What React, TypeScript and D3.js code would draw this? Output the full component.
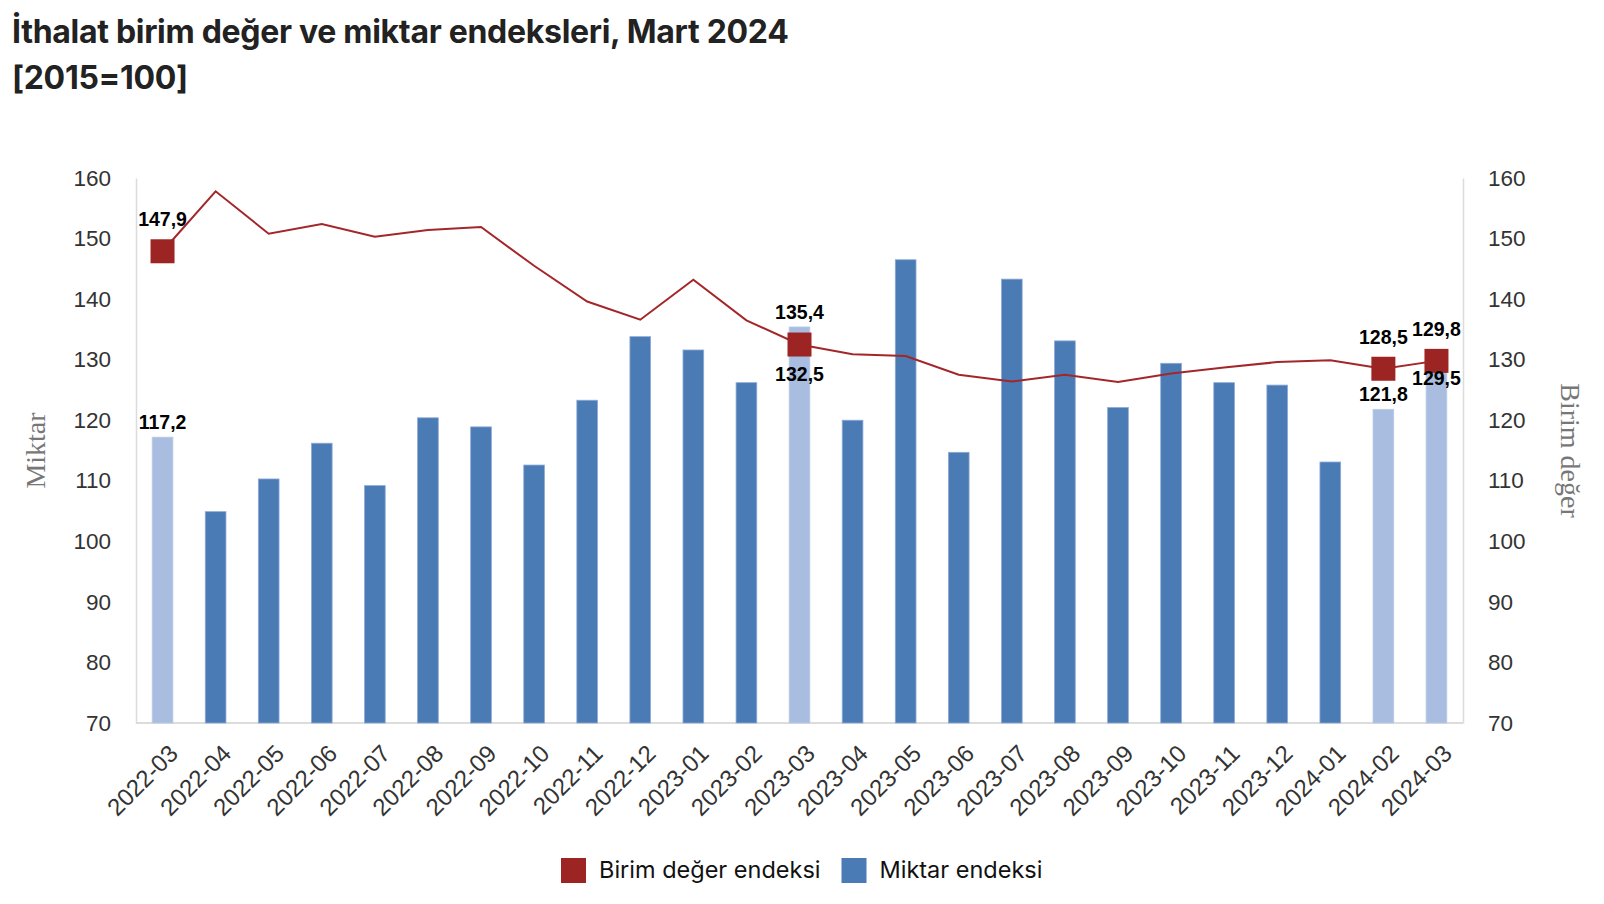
import React, { useEffect, useRef } from "react";
import * as d3 from "d3";

const months = [
    "2022-03", "2022-04", "2022-05", "2022-06", "2022-07", "2022-08", "2022-09",
    "2022-10", "2022-11", "2022-12", "2023-01", "2023-02", "2023-03", "2023-04",
    "2023-05", "2023-06", "2023-07", "2023-08", "2023-09", "2023-10", "2023-11",
    "2023-12", "2024-01", "2024-02", "2024-03",
];

// Miktar endeksi (bars)
const miktar = [
    117.2, 104.9, 110.3, 116.2, 109.2, 120.4, 118.9, 112.6, 123.3, 133.8, 131.6,
    126.2, 135.4, 120.0, 146.5, 114.7, 143.3, 133.1, 122.1, 129.4, 126.2, 125.8,
    113.1, 121.8, 129.5,
];

// Birim değer endeksi (line)
const birimDeger = [
    147.9, 157.8, 150.8, 152.4, 150.3, 151.4, 151.9, 145.5, 139.6, 136.6, 143.2,
    136.5, 132.5, 130.9, 130.6, 127.5, 126.4, 127.5, 126.3, 127.7, 128.7, 129.6,
    129.9, 128.5, 129.8,
];

// months that get the light bar, a marker and value labels
const highlighted = ["2022-03", "2023-03", "2024-02", "2024-03"];

const yTicks = [70, 80, 90, 100, 110, 120, 130, 140, 150, 160];

const title1 = "İthalat birim değer ve miktar endeksleri, Mart 2024";
const title2 = "[2015=100]";

const W = 1604;
const H = 904;

const fmt = (v: number) => v.toFixed(1).replace(".", ",");

const App: React.FC = () => {
    const svgRef = useRef<SVGSVGElement | null>(null);

    useEffect(() => {
        const margin = { top: 178, right: 141, bottom: 181, left: 136 };
        const svg = d3.select(svgRef.current).attr("width", W).attr("height", H);
        svg.selectAll("*").remove();

        const tickFont = "'Liberation Sans', Arial, sans-serif";

        // title
        [title1, title2].forEach((t, i) => {
            svg.append("text")
                .attr("x", 12)
                .attr("y", 43 + i * 46)
                .attr("font-family", "Inter, Roboto, sans-serif")
                .attr("font-weight", 700)
                .attr("font-size", 32)
                .attr("letter-spacing", -0.3)
                .attr("fill", "#222")
                .text(t);
        });

        const x = d3
            .scaleBand<string>()
            .domain(months)
            .range([margin.left, W - margin.right])
            .paddingInner(0.61)
            .paddingOuter(0.305);

        const y = d3
            .scaleLinear()
            .domain([70, 160])
            .range([H - margin.bottom, margin.top]);

        const cx = (m: string) => x(m)! + x.bandwidth() / 2;

        // axes
        const left = svg
            .append("g")
            .attr("transform", `translate(${margin.left},0)`)
            .call(d3.axisLeft(y).tickValues(yTicks).tickSize(0).tickPadding(25));
        const right = svg
            .append("g")
            .attr("transform", `translate(${W - margin.right},0)`)
            .call(d3.axisRight(y).tickValues(yTicks).tickSize(0).tickPadding(25));
        [left, right].forEach((g) => {
            g.select(".domain").attr("stroke", "#dcdcdc").attr("stroke-width", 1.5);
            g.selectAll("text")
                .attr("font-family", tickFont)
                .attr("font-size", 22.5)
                .attr("fill", "#333");
        });

        svg.append("line")
            .attr("x1", margin.left)
            .attr("x2", W - margin.right)
            .attr("y1", y(70))
            .attr("y2", y(70))
            .attr("stroke", "#dcdcdc")
            .attr("stroke-width", 2);

        // x labels, rotated
        svg.append("g")
            .selectAll("text")
            .data(months)
            .enter()
            .append("text")
            .attr("transform", (d) => `translate(${cx(d) + 11},${y(70) + 26}) rotate(-45)`)
            .attr("text-anchor", "end")
            .attr("dy", "0.35em")
            .attr("font-family", tickFont)
            .attr("font-size", 24)
            .attr("fill", "#333")
            .text((d) => d);

        // axis titles
        svg.append("text")
            .attr("transform", `translate(45,${(y(70) + y(160)) / 2}) rotate(-90)`)
            .attr("text-anchor", "middle")
            .attr("font-family", "'Liberation Serif', 'Times New Roman', serif")
            .attr("font-size", 28)
            .attr("fill", "#777")
            .text("Miktar");
        svg.append("text")
            .attr("transform", `translate(1561,${(y(70) + y(160)) / 2}) rotate(90)`)
            .attr("text-anchor", "middle")
            .attr("font-family", "'Liberation Serif', 'Times New Roman', serif")
            .attr("font-size", 28)
            .attr("fill", "#777")
            .text("Birim değer");

        // bars
        svg.append("g")
            .selectAll("rect")
            .data(months)
            .enter()
            .append("rect")
            .attr("x", (d) => x(d)!)
            .attr("y", (d, i) => y(miktar[i]))
            .attr("width", x.bandwidth())
            .attr("height", (d, i) => y(70) - y(miktar[i]))
            .attr("fill", (d) => (highlighted.includes(d) ? "#a8bde0" : "#4a7bb4"))
            .attr("stroke", (d) => (highlighted.includes(d) ? "#b9cae6" : "#8eaad6"))
            .attr("stroke-width", 0.8);

        // line
        const line = d3
            .line<number>()
            .x((d, i) => cx(months[i]))
            .y((d) => y(d));
        svg.append("path")
            .datum(birimDeger)
            .attr("fill", "none")
            .attr("stroke", "#a3272a")
            .attr("stroke-width", 2)
            .attr("d", line);

        // markers + labels
        const ms = 24;
        months.forEach((m, i) => {
            if (!highlighted.includes(m)) return;
            const px = cx(m);
            const lineVal = birimDeger[i];
            const barVal = miktar[i];
            svg.append("rect")
                .attr("x", px - ms / 2)
                .attr("y", y(lineVal) - ms / 2)
                .attr("width", ms)
                .attr("height", ms)
                .attr("fill", "#9c2523");

            const lineBelow = barVal > lineVal;
            const barBelow = !lineBelow && lineVal - barVal < 3;

            const label = (t: string, yy: number) =>
                svg.append("text")
                    .attr("x", px)
                    .attr("y", yy)
                    .attr("text-anchor", "middle")
                    .attr("dy", "0.35em")
                    .attr("font-family", "'Liberation Sans', Arial, sans-serif")
                    .attr("font-weight", 700)
                    .attr("font-size", 19.5)
                    .attr("fill", "#000")
                    .text(t);

            label(fmt(lineVal), lineBelow ? y(lineVal) + 30 : y(lineVal) - 32);
            label(fmt(barVal), barBelow ? y(barVal) + 15 : y(barVal) - 15);
        });

        // legend
        const legend = [
            { name: "Birim değer endeksi", color: "#9c2523" },
            { name: "Miktar endeksi", color: "#4a7bb4" },
        ];
        let lx = 561;
        legend.forEach((l) => {
            svg.append("rect")
                .attr("x", lx)
                .attr("y", 858)
                .attr("width", 25)
                .attr("height", 25)
                .attr("fill", l.color);
            const t = svg.append("text")
                .attr("x", lx + 38)
                .attr("y", 870)
                .attr("dy", "0.35em")
                .attr("font-family", "Inter, Roboto, sans-serif")
                .attr("font-size", 23.5)
                .attr("fill", "#111")
                .text(l.name);
            const w = (t.node() as SVGTextElement).getComputedTextLength();
            lx += 38 + w + 21;
        });
    }, []);

    return (
        <div style={{ position: "absolute", left: 0, top: 0, background: "#fff" }}>
            <svg ref={svgRef}></svg>
        </div>
    );
};

export default App;
